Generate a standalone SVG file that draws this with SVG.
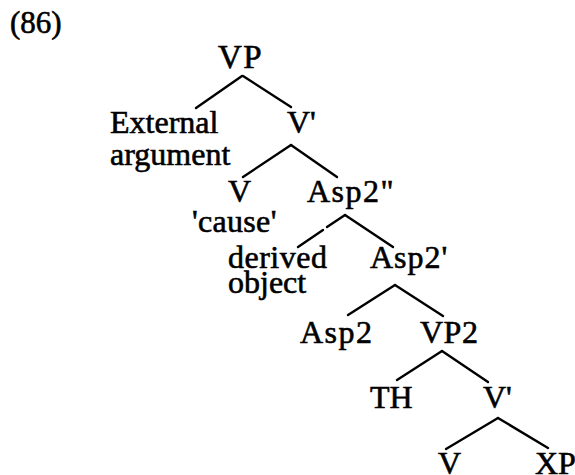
<svg xmlns="http://www.w3.org/2000/svg" width="575" height="475" viewBox="0 0 575 475">
<style>
text{font-family:"Liberation Serif","Times New Roman",serif;font-size:32px;fill:#000;stroke:#000;stroke-width:0.6}
.e line{stroke:#000;stroke-width:2.4;stroke-linecap:round}
</style>
<rect width="575" height="475" fill="#fff"/>
<text x="10" y="33" style="font-size:31px">(86)</text>
<g class="e" id="edges">
<line x1="242" y1="76" x2="196" y2="108"/>
<line x1="243" y1="76" x2="291" y2="107"/>
<line x1="291" y1="145" x2="243" y2="177"/>
<line x1="291" y1="145" x2="337" y2="177"/>
<line x1="345" y1="215" x2="327" y2="227"/>
<line x1="323" y1="230" x2="298" y2="247"/>
<line x1="345" y1="215" x2="393" y2="247"/>
<line x1="395" y1="285" x2="348" y2="315"/>
<line x1="395" y1="285" x2="443" y2="316"/>
<line x1="442" y1="351" x2="397" y2="380"/>
<line x1="442" y1="351" x2="488" y2="382"/>
<line x1="498" y1="418" x2="446" y2="449"/>
<line x1="498" y1="418" x2="548" y2="448"/>
</g>
<g id="n-vp"><text x="218" y="68" letter-spacing="1.5" style="font-size:33px">VP</text></g>
<g id="n-ext"><text x="110" y="133">External</text><text x="110" y="165">argument</text></g>
<g id="n-vbar1"><text x="287" y="133">V'</text></g>
<g id="n-v1"><text x="228" y="202">V</text><text x="192" y="232" letter-spacing="0.3">'cause'</text></g>
<g id="n-asp2pp"><text x="307" y="202" letter-spacing="1.5">Asp2"</text></g>
<g id="n-derived"><text x="228" y="268" letter-spacing="0.5">derived</text><text x="228" y="293">object</text></g>
<g id="n-asp2p"><text x="370" y="268" letter-spacing="1">Asp2'</text></g>
<g id="n-asp2"><text x="300" y="343" letter-spacing="1.5">Asp2</text></g>
<g id="n-vp2"><text x="420" y="343" letter-spacing="0.5">VP2</text></g>
<g id="n-th"><text x="370" y="408">TH</text></g>
<g id="n-vbar2"><text x="483" y="408">V'</text></g>
<g id="n-v2"><text x="438" y="474">V</text></g>
<g id="n-xp"><text x="535" y="474">XP</text></g>
</svg>
